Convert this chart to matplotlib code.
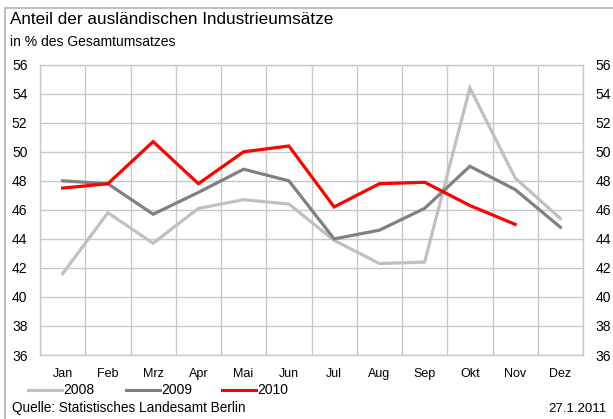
import matplotlib
matplotlib.use("Agg")
import matplotlib.pyplot as plt
from matplotlib.lines import Line2D

plt.rcParams['font.family'] = ['Liberation Sans', 'DejaVu Sans']

months = ["Jan", "Feb", "Mrz", "Apr", "Mai", "Jun", "Jul", "Aug", "Sep", "Okt", "Nov", "Dez"]
v2008 = [41.6, 45.8, 43.7, 46.1, 46.7, 46.4, 43.9, 42.3, 42.4, 54.4, 48.2, 45.4]
v2009 = [48.0, 47.8, 45.7, 47.2, 48.8, 48.0, 44.0, 44.6, 46.1, 49.0, 47.4, 44.8]
v2010 = [47.5, 47.8, 50.7, 47.8, 50.0, 50.4, 46.2, 47.8, 47.9, 46.3, 45.0]
yticks = list(range(36, 57, 2))

fig = plt.figure(figsize=(6.13, 4.19), dpi=100)
W, H = 613, 419
ax = fig.add_axes([40 / W, 1 - 355 / H, (583 - 40) / W, (355 - 64.7) / H])

grid_c = "#c8c8c8"
x = list(range(12))
ax.plot(x, v2008, color="#c0c0c0", lw=2.3, solid_joinstyle="miter", zorder=3)
ax.plot(x, v2009, color="#808080", lw=2.3, solid_joinstyle="miter", zorder=4)
ax.plot(x[:len(v2010)], v2010, color="#ff0000", lw=2.3, solid_joinstyle="miter", zorder=5)

ax.set_xlim(-0.5, 11.5)
ax.set_ylim(36, 56)
ax.set_xticks(x)
ax.set_xticklabels(months)
ax.set_xticks([i - 0.5 for i in range(13)], minor=True)
ax.set_yticks(yticks)
ax.set_yticklabels([str(t) for t in yticks])
ax.grid(which="minor", axis="x", color=grid_c, lw=1)
ax.grid(which="major", axis="y", color=grid_c, lw=1)
ax.tick_params(axis="x", which="both", length=0, labelsize=9, pad=9)
ax.tick_params(axis="y", length=0, labelsize=10, pad=9, labelright=True, right=False)
for s in ax.spines.values():
    s.set_color(grid_c)
    s.set_linewidth(1)

# frame lines (top and left)
fig.add_artist(Line2D([5 / W, 5 / W], [0, 1 - 8 / H], color="#c0c0c0", lw=1.5, transform=fig.transFigure))
fig.add_artist(Line2D([5 / W, 1], [1 - 8 / H, 1 - 8 / H], color="#c0c0c0", lw=1.5, transform=fig.transFigure))

fig.text(10 / W, 1 - 19 / H, "Anteil der ausländischen Industrieumsätze", fontsize=12.3, va="center", ha="left")
fig.text(10 / W, 1 - 42 / H, "in % des Gesamtumsatzes", fontsize=10, va="center", ha="left")

# legend
leg = [("2008", "#c0c0c0", 28), ("2009", "#808080", 126), ("2010", "#ff0000", 222)]
for lab, col, x0 in leg:
    fig.add_artist(Line2D([x0 / W, (x0 + 34) / W], [1 - 390 / H, 1 - 390 / H], color=col, lw=2.2,
                          transform=fig.transFigure))
    fig.text((x0 + 35) / W, 1 - 390 / H, lab, fontsize=10, va="center", ha="left")

fig.text(12 / W, 1 - 408 / H, "Quelle: Statistisches Landesamt Berlin", fontsize=9.8, va="center", ha="left")
fig.text(607 / W, 1 - 409 / H, "27.1.2011", fontsize=9.5, va="center", ha="right")

fig.savefig("out.png", dpi=100)
